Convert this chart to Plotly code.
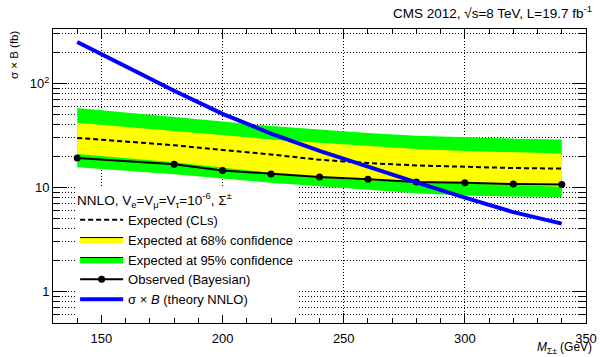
import plotly.graph_objects as go

# ---- data ----
mass = [140, 180, 200, 220, 240, 260, 280, 300, 320, 340]
observed = [19.2, 16.7, 14.6, 13.5, 12.6, 12.0, 11.3, 11.1, 10.8, 10.7]
expected = [30.0, 25.5, 23.0, 20.8, 18.5, 17.2, 16.3, 15.8, 15.4, 15.2]
yellow_hi = [42.0, 35.0, 31.5, 29.0, 27.0, 25.0, 23.5, 22.5, 21.8, 21.2]
yellow_lo = [21.0, 17.5, 15.5, 13.8, 12.5, 11.7, 11.3, 11.0, 10.6, 10.2]
green_hi = [58.0, 48.0, 43.0, 39.0, 36.0, 33.5, 31.5, 30.3, 29.5, 29.0]
green_lo = [15.7, 13.4, 12.2, 11.1, 10.3, 9.5, 8.8, 8.4, 8.2, 8.1]
theory = [250.0, 85.0, 51.0, 33.0, 22.5, 15.8, 11.2, 8.0, 5.8, 4.5]

x_ticks = [150, 200, 250, 300, 350]
y_ticks = [1, 10, 100]
y_ticktext = ["1", "10", "10<sup>2</sup>"]
y_minor = [v * d for d in (0.1, 1, 10, 100) for v in range(2, 10)
           if 0.5 <= v * d <= 330 and v * d not in (1, 10, 100)]

FONT = "Liberation Sans, Arial, Helvetica, sans-serif"
YEL = "#ffff00"
GRN = "#00ff00"

fig = go.Figure()

# bands (polygons built from the arrays)
fig.add_trace(go.Scatter(x=mass + mass[::-1], y=green_hi + green_lo[::-1],
                         fill="toself", fillcolor=GRN, line=dict(width=0),
                         mode="lines", showlegend=False, hoverinfo="skip"))
fig.add_trace(go.Scatter(x=mass + mass[::-1], y=yellow_hi + yellow_lo[::-1],
                         fill="toself", fillcolor=YEL, line=dict(width=0),
                         mode="lines", showlegend=False, hoverinfo="skip"))
fig.add_trace(go.Scatter(x=mass, y=expected, mode="lines",
                         line=dict(color="black", width=2, dash="5px,3px"),
                         name="Expected (CLs)", legendrank=1))
# legend-only box entries
fig.add_trace(go.Scatter(x=[None], y=[None], fill="toself", fillcolor=YEL,
                         line=dict(color="black", width=1), mode="lines",
                         name="Expected at 68% confidence", legendrank=2))
fig.add_trace(go.Scatter(x=[None], y=[None], fill="toself", fillcolor=GRN,
                         line=dict(color="black", width=1), mode="lines",
                         name="Expected at 95% confidence", legendrank=3))
fig.add_trace(go.Scatter(x=mass, y=observed, mode="lines+markers",
                         line=dict(color="black", width=2),
                         marker=dict(color="black", size=7, symbol="circle"),
                         name="Observed (Bayesian)", legendrank=4))
fig.add_trace(go.Scatter(x=mass, y=theory, mode="lines",
                         line=dict(color="#0000ff", width=4),
                         name="σ × <i>B</i> (theory NNLO)", legendrank=5))

grid = dict(gridcolor="#000", griddash="1px,2px", gridwidth=1)

fig.update_xaxes(range=[130, 350], tickvals=x_ticks, ticks="inside",
                 ticklen=10, tickcolor="black", showline=True, linecolor="black",
                 linewidth=1, mirror="ticks", showgrid=True, zeroline=False,
                 ticklabelstandoff=3,
                 tickfont=dict(family=FONT, size=13, color="black"),
                 minor=dict(dtick=10, tick0=130, ticks="inside", ticklen=5,
                            tickcolor="black", showgrid=False),
                 **grid)
fig.update_yaxes(type="log", range=[0.30103 * -1, 2.523], tickvals=y_ticks,
                 ticktext=y_ticktext, ticks="inside", ticklen=14,
                 tickcolor="black", showline=True, linecolor="black",
                 linewidth=1, mirror="ticks", showgrid=True, zeroline=False,
                 tickfont=dict(family=FONT, size=13, color="black"),
                 minor=dict(tickmode="array", tickvals=y_minor, ticks="inside",
                            ticklen=7, tickcolor="black", showgrid=True,
                            gridcolor="#000", griddash="1px,2px", gridwidth=1),
                 **grid)

fig.update_layout(
    width=608, height=357,
    margin=dict(l=53, r=11, t=29, b=25.5),
    paper_bgcolor="white", plot_bgcolor="white",
    font=dict(family=FONT, size=13, color="black"),
    legend=dict(x=0.0415, y=0.462, xanchor="left", yanchor="top",
                bgcolor="white", borderwidth=0, traceorder="normal",
                font=dict(family=FONT, size=13, color="black"),
                itemwidth=43, entrywidth=178, entrywidthmode="pixels",
                title=dict(text="NNLO, V<sub>e</sub>=V<sub>μ</sub>=V<sub>τ</sub>=10<sup>-6</sup>, Σ<sup>±</sup>",
                           font=dict(family=FONT, size=13.5, color="black"))),
    annotations=[
        dict(text="CMS 2012, √s=8 TeV, L=19.7 fb<sup>-1</sup>", xref="paper",
             yref="paper", x=1.0, y=1.0, xanchor="right", yanchor="bottom",
             xshift=8, yshift=6, showarrow=False,
             font=dict(family=FONT, size=13.5)),
        dict(text="<i>M</i><sub>Σ±</sub> (GeV)", xref="paper", yref="paper",
             x=1.0, y=0, xanchor="right", yanchor="top", xshift=8, yshift=-15,
             showarrow=False, font=dict(family=FONT, size=12)),
        dict(text="σ × B (fb)", xref="paper", yref="paper", x=0, y=1,
             xanchor="right", yanchor="top", xshift=-31, textangle=-90,
             showarrow=False, font=dict(family=FONT, size=11.5)),
    ],
)

fig.write_html("out.html")
